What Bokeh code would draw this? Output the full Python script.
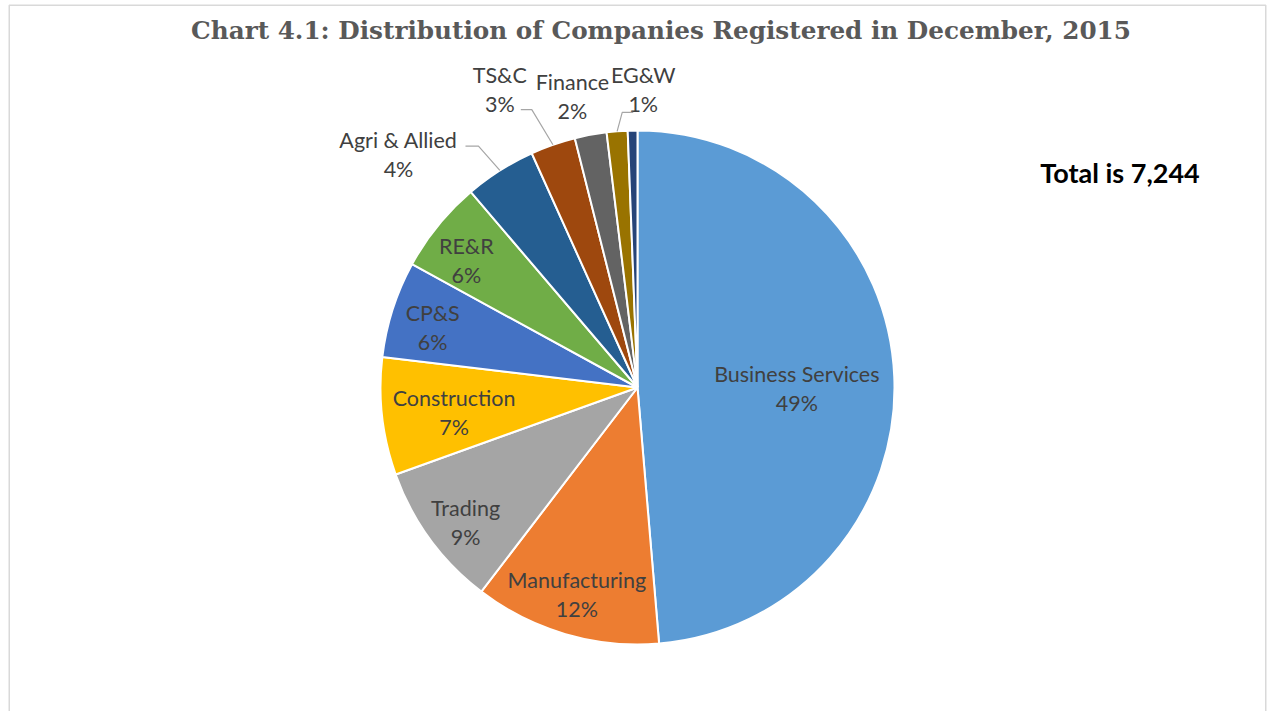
import math
from bokeh.plotting import figure
from bokeh.models import Range1d, ColumnDataSource
from bokeh.core.properties import value
from bokeh.embed import file_html
from bokeh.resources import INLINE

# ---------------- data ----------------
categories = ["Business Services", "Manufacturing", "Trading", "Construction", "CP&S",
              "RE&R", "Agri & Allied", "TS&C", "Finance", "EG&W", "Others"]
counts = [3525, 850, 660, 535, 440, 420, 325, 205, 145, 95, 44]
show_label = [True, True, True, True, True, True, True, True, True, True, False]
colors = ["#5B9BD5", "#ED7D31", "#A5A5A5", "#FFC000", "#4472C4", "#70AD47",
          "#255E91", "#9E480E", "#636363", "#997300", "#264478"]
title_text = "Chart 4.1: Distribution of Companies Registered in December, 2015"

# ---------------- layout ----------------
W, H = 1269, 711
CX, CY, R = 637, 324, 257
# (angle shift in degrees, radius factor) per label
label_layout = [(2.8, 0.62), (0, 0.84), (-1.9, 0.85), (-1.2, 0.72), (-1.5, 0.83),
                (-2.5, 0.83), (-13.3, 1.30), (-5.6, 1.277), (-2.1, 1.16), (5.65, 1.16), (0, 0)]
# leader lines: index -> (start dx, elbow dx, dy below label centre)
leaders = {6: (67, 80, -8), 7: (21, 32, 20), 9: (-10, -21, 23)}

LABEL_FONT = "Lato"
LABEL_COLOR = "#404040"
LABEL_SIZE = "21.5px"

total = sum(counts)
fracs = [c / total for c in counts]
cum = [0.0]
for f in fracs:
    cum.append(cum[-1] + f)

start_angles = [math.pi / 2 - 2 * math.pi * cum[i] for i in range(len(counts))]
end_angles = [math.pi / 2 - 2 * math.pi * cum[i + 1] for i in range(len(counts))]

p = figure(width=W, height=H, output_backend="svg", toolbar_location=None,
           x_axis_type=None, y_axis_type=None, min_border=0,
           x_range=Range1d(0, W), y_range=Range1d(0, H))
p.grid.visible = False
p.outline_line_color = None
p.background_fill_color = "white"
p.border_fill_color = "white"

src = ColumnDataSource(dict(x=[CX] * len(counts), y=[CY] * len(counts),
                            start=start_angles, end=end_angles, color=colors))
p.wedge(x="x", y="y", radius=R, radius_units="screen", start_angle="start",
        end_angle="end", direction="clock", fill_color="color",
        line_color="white", line_width=2, source=src)

# labels
for i, cat in enumerate(categories):
    if not show_label[i]:
        continue
    mid = 360 * (cum[i] + cum[i + 1]) / 2
    shift, k = label_layout[i]
    th = math.radians(mid + shift)
    lx = CX + k * R * math.sin(th)
    ly = CY + k * R * math.cos(th)
    pct = f"{round(100 * counts[i] / total)}%"
    p.text(x=[lx], y=[ly + 14.5], text=[cat], text_align="center", text_baseline="middle",
           text_font=value(LABEL_FONT), text_font_size=LABEL_SIZE, text_color=LABEL_COLOR)
    p.text(x=[lx], y=[ly - 14.5], text=[pct], text_align="center", text_baseline="middle",
           text_font=value(LABEL_FONT), text_font_size=LABEL_SIZE, text_color=LABEL_COLOR)
    if i in leaders:
        sdx, edx, dy = leaders[i]
        tm = math.radians(mid)
        ex = CX + R * math.sin(tm)
        ey = CY + R * math.cos(tm)
        p.line(x=[lx + sdx, lx + edx, ex], y=[ly - dy, ly - dy, ey],
               line_color="#A6A6A6", line_width=1.2)

# title
p.text(x=[660.5], y=[681], text=[title_text], text_align="center", text_baseline="middle",
       text_font=value("DejaVu Serif"), text_font_style="bold", text_font_size="24.7px",
       text_color="#595959")

# total annotation
p.text(x=[1119.5], y=[539], text=[f"Total is {total:,}"], text_align="center",
       text_baseline="middle", text_font=value(LABEL_FONT), text_font_style="bold",
       text_font_size="27px", text_color="black")

# chart border (left, top, right)
p.line(x=[8.75, 8.75, 1265.25, 1265.25], y=[0, 706.25, 706.25, 0],
       line_color="#D9D9D9", line_width=1.5)

open("out.html", "w").write(file_html(p, INLINE))
